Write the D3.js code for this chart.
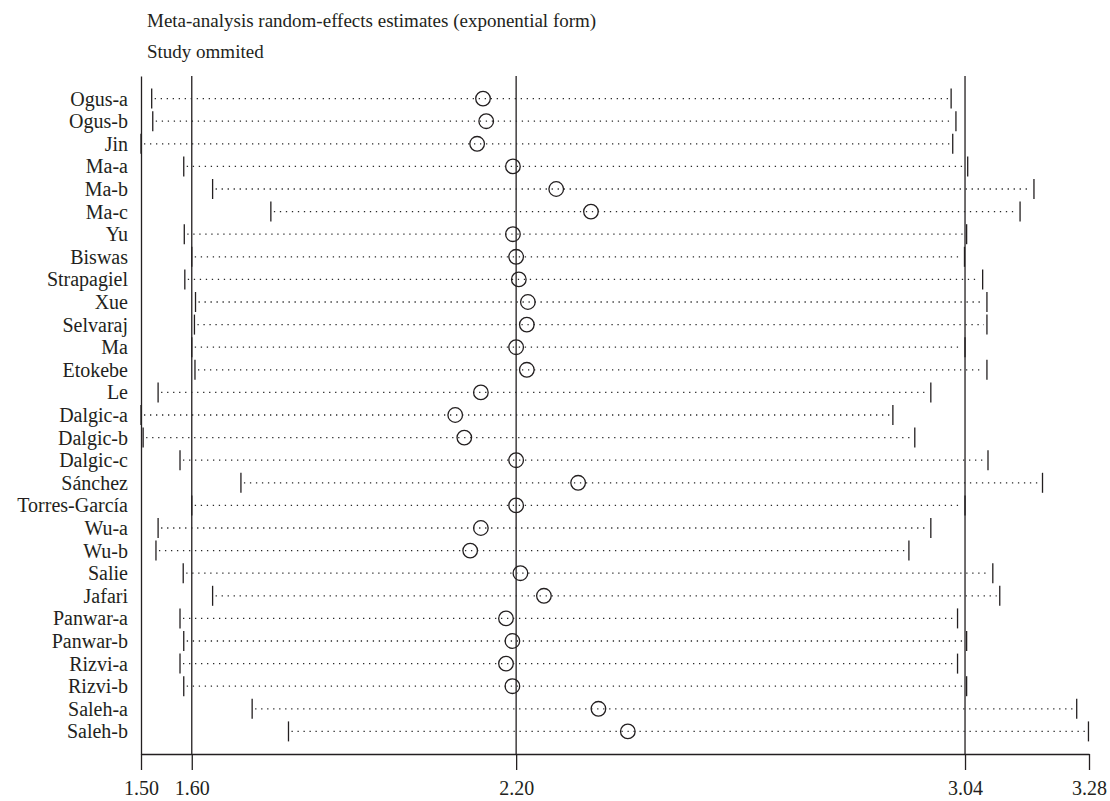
<!DOCTYPE html>
<html>
<head>
<meta charset="utf-8">
<script src="https://cdn.jsdelivr.net/npm/d3@7/dist/d3.min.js"></script>
<style>
  body { margin: 0; background: #fff; }
  svg text { font-family: "Liberation Serif", "Times New Roman", serif; fill: #231f20; }
</style>
</head>
<body>
<svg id="chart" width="1110" height="801"></svg>
<script>
// study omitted, and the pooled estimate with its CI when it is left out
var studies = ['Ogus-a', 'Ogus-b', 'Jin', 'Ma-a', 'Ma-b', 'Ma-c', 'Yu', 'Biswas', 'Strapagiel', 'Xue',
               'Selvaraj', 'Ma', 'Etokebe', 'Le', 'Dalgic-a', 'Dalgic-b', 'Dalgic-c', 'Sánchez', 'Torres-García',
               'Wu-a', 'Wu-b', 'Salie', 'Jafari', 'Panwar-a', 'Panwar-b', 'Rizvi-a', 'Rizvi-b', 'Saleh-a', 'Saleh-b'];
var lower = [1.522, 1.524, 1.502, 1.582, 1.636, 1.745, 1.583, 1.597, 1.584, 1.604,
             1.602, 1.597, 1.603, 1.534, 1.502, 1.506, 1.575, 1.689, 1.597,
             1.534, 1.530, 1.581, 1.636, 1.575, 1.582, 1.575, 1.582, 1.710, 1.778];
var estimate = [2.142, 2.148, 2.131, 2.198, 2.279, 2.344, 2.198, 2.204, 2.209, 2.226,
                2.224, 2.204, 2.224, 2.138, 2.090, 2.107, 2.204, 2.320, 2.204,
                2.138, 2.118, 2.212, 2.256, 2.185, 2.197, 2.185, 2.197, 2.358, 2.413];
var upper = [3.018, 3.027, 3.021, 3.049, 3.173, 3.147, 3.047, 3.043, 3.077, 3.085,
             3.085, 3.044, 3.085, 2.980, 2.909, 2.950, 3.087, 3.189, 3.044,
             2.980, 2.939, 3.096, 3.109, 3.030, 3.047, 3.030, 3.047, 3.253, 3.275];
// overall estimate and its CI (reference lines)
var refLines = [1.597, 2.204, 3.044];
var xTicks = [1.502, 1.597, 2.204, 3.044, 3.276];

var data = studies.map(function(s, i) {
    return {study: s, lo: lower[i], est: estimate[i], hi: upper[i]};
});

var svg = d3.select("#chart");
var plotTop = 76, plotBottom = 754, plotLeft = 141, plotRight = 1089;
var ink = "#231f20";

var x = d3.scaleLinear().domain([1.502, 3.276]).range([plotLeft, plotRight]);
var y = d3.scalePoint().domain(studies).range([plotTop, plotBottom]).padding(1);

svg.append("text").attr("x", 147).attr("y", 27).style("font-size", "19px")
    .text("Meta-analysis random-effects estimates (exponential form)");
svg.append("text").attr("x", 147).attr("y", 58).style("font-size", "19px")
    .text("Study ommited");

// y axis with study labels
var yAxis = svg.append("g")
    .attr("transform", `translate(${plotLeft},0)`)
    .call(d3.axisLeft(y).tickSize(0).tickSizeOuter(0).tickPadding(13));
yAxis.select(".domain").attr("stroke", ink).attr("stroke-width", 1.3);
yAxis.selectAll("text").style("font-size", "20px").style("font-family", "Liberation Serif").attr("fill", ink);

// x axis
var xAxis = svg.append("g")
    .attr("transform", `translate(0,${plotBottom})`)
    .call(d3.axisBottom(x).tickValues(xTicks).tickFormat(d3.format(".2f")).tickSize(16).tickSizeOuter(0).tickPadding(11));
xAxis.select(".domain").attr("stroke", ink).attr("stroke-width", 1.3);
xAxis.selectAll("line").attr("stroke", ink).attr("stroke-width", 1.3);
xAxis.selectAll("text").style("font-size", "20px").style("font-family", "Liberation Serif").attr("fill", ink);

// reference lines
svg.append("g").selectAll("line")
    .data(refLines)
    .join("line")
    .attr("x1", d => x(d)).attr("x2", d => x(d))
    .attr("y1", plotTop).attr("y2", plotBottom)
    .attr("stroke", ink).attr("stroke-width", 1.3);

var rows = svg.append("g").selectAll("g")
    .data(data)
    .join("g")
    .attr("transform", d => `translate(0,${y(d.study)})`);

rows.append("line")
    .attr("x1", d => x(d.lo) + 3).attr("x2", d => x(d.hi) - 3)
    .attr("stroke", "#2a2a2a").attr("stroke-width", 1.3)
    .attr("stroke-dasharray", "1.3,4.7");

rows.selectAll(".cap")
    .data(d => [d.lo, d.hi])
    .join("line")
    .attr("class", "cap")
    .attr("x1", d => x(d)).attr("x2", d => x(d))
    .attr("y1", -10).attr("y2", 10)
    .attr("stroke", ink).attr("stroke-width", 1.3);

rows.append("circle")
    .attr("cx", d => x(d.est))
    .attr("r", 7.3)
    .attr("fill", "none")
    .attr("stroke", ink).attr("stroke-width", 1.3);
</script>
</body>
</html>
